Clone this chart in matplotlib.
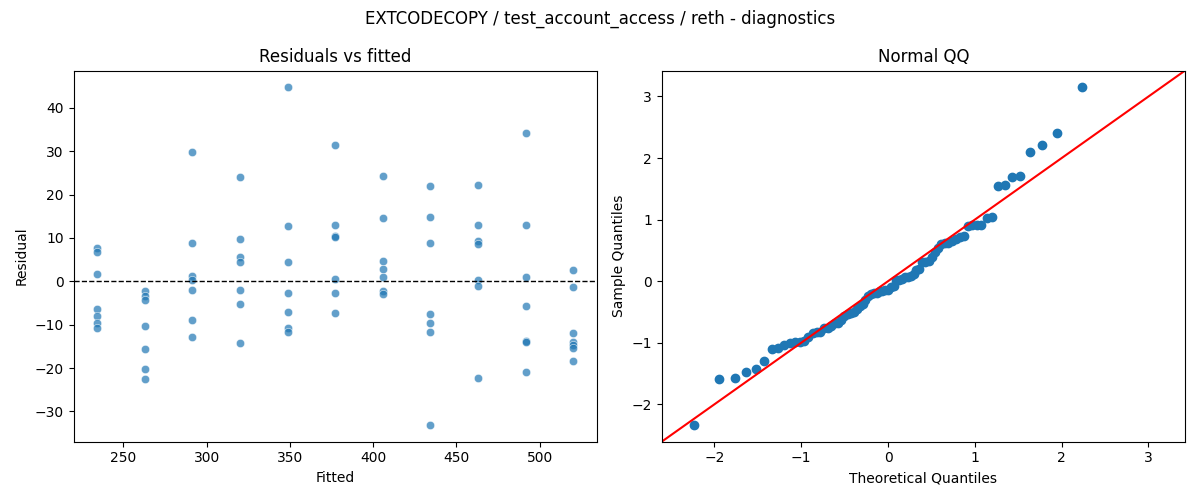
import numpy as np
import matplotlib
matplotlib.use("Agg")
import matplotlib.pyplot as plt
import seaborn as sns
from statistics import NormalDist

# fitted levels and the residuals
fitted_levels = [234.4, 263.0, 291.5, 320.0, 348.6, 377.2, 405.8, 434.4, 463.0, 491.5, 520.0]
residuals_by_level = [
    [7.6, 6.7, 1.6, -6.4, -8.0, -9.7, -10.8],
    [-2.3, -3.3, -4.2, -10.3, -15.6, -20.2, -22.5],
    [29.8, 8.8, 1.2, 0.2, -2.0, -9.0, -12.9],
    [24.0, 9.7, 5.5, 4.4, -2.1, -5.3, -14.3],
    [44.7, 12.7, 4.4, -2.8, -7.1, -10.8, -11.8],
    [31.5, 13.1, 10.5, 10.3, 0.5, -2.8, -7.3],
    [24.4, 14.5, 4.6, 2.8, 1.1, -2.2, -3.0],
    [21.9, 14.8, 8.9, -7.6, -9.6, -11.7, -33.1],
    [22.3, 13.1, 9.4, 8.6, 0.2, -1.0, -22.3],
    [34.3, 13.1, 1.1, -5.8, -13.8, -14.0, -21.0],
    [2.5, -1.2, -12.0, -14.0, -14.6, -15.4, -18.4],
]

title = "EXTCODECOPY / test_account_access / reth - diagnostics"


def main():
    fitted = np.concatenate([[f] * len(r) for f, r in zip(fitted_levels, residuals_by_level)])
    resid = np.concatenate(residuals_by_level)

    fig, axes = plt.subplots(1, 2, figsize=(12, 5), dpi=100)

    # residuals vs fitted
    ax = axes[0]
    sns.scatterplot(x=fitted, y=resid, ax=ax, alpha=0.7)
    ax.axhline(0, color="black", linestyle="--", linewidth=1)
    ax.set_xlabel("Fitted")
    ax.set_ylabel("Residual")
    ax.set_title("Residuals vs fitted")

    # normal QQ of standardized residuals
    ax = axes[1]
    n = len(resid)
    sample = np.sort((resid - resid.mean()) / resid.std())
    nd = NormalDist()
    theo = np.array([nd.inv_cdf(i / (n + 1)) for i in range(1, n + 1)])
    ax.plot(theo, sample, "o", color="C0", markeredgecolor="C0")
    xl = ax.get_xlim()
    yl = ax.get_ylim()
    lims = [min(xl[0], yl[0]), max(xl[1], yl[1])]
    ax.plot(lims, lims, "r-")
    ax.set_xlim(lims)
    ax.set_ylim(lims)
    ax.set_xlabel("Theoretical Quantiles")
    ax.set_ylabel("Sample Quantiles")
    ax.set_title("Normal QQ")

    fig.suptitle(title)
    fig.tight_layout()
    fig.savefig("out.png")


if __name__ == '__main__':
    main()
